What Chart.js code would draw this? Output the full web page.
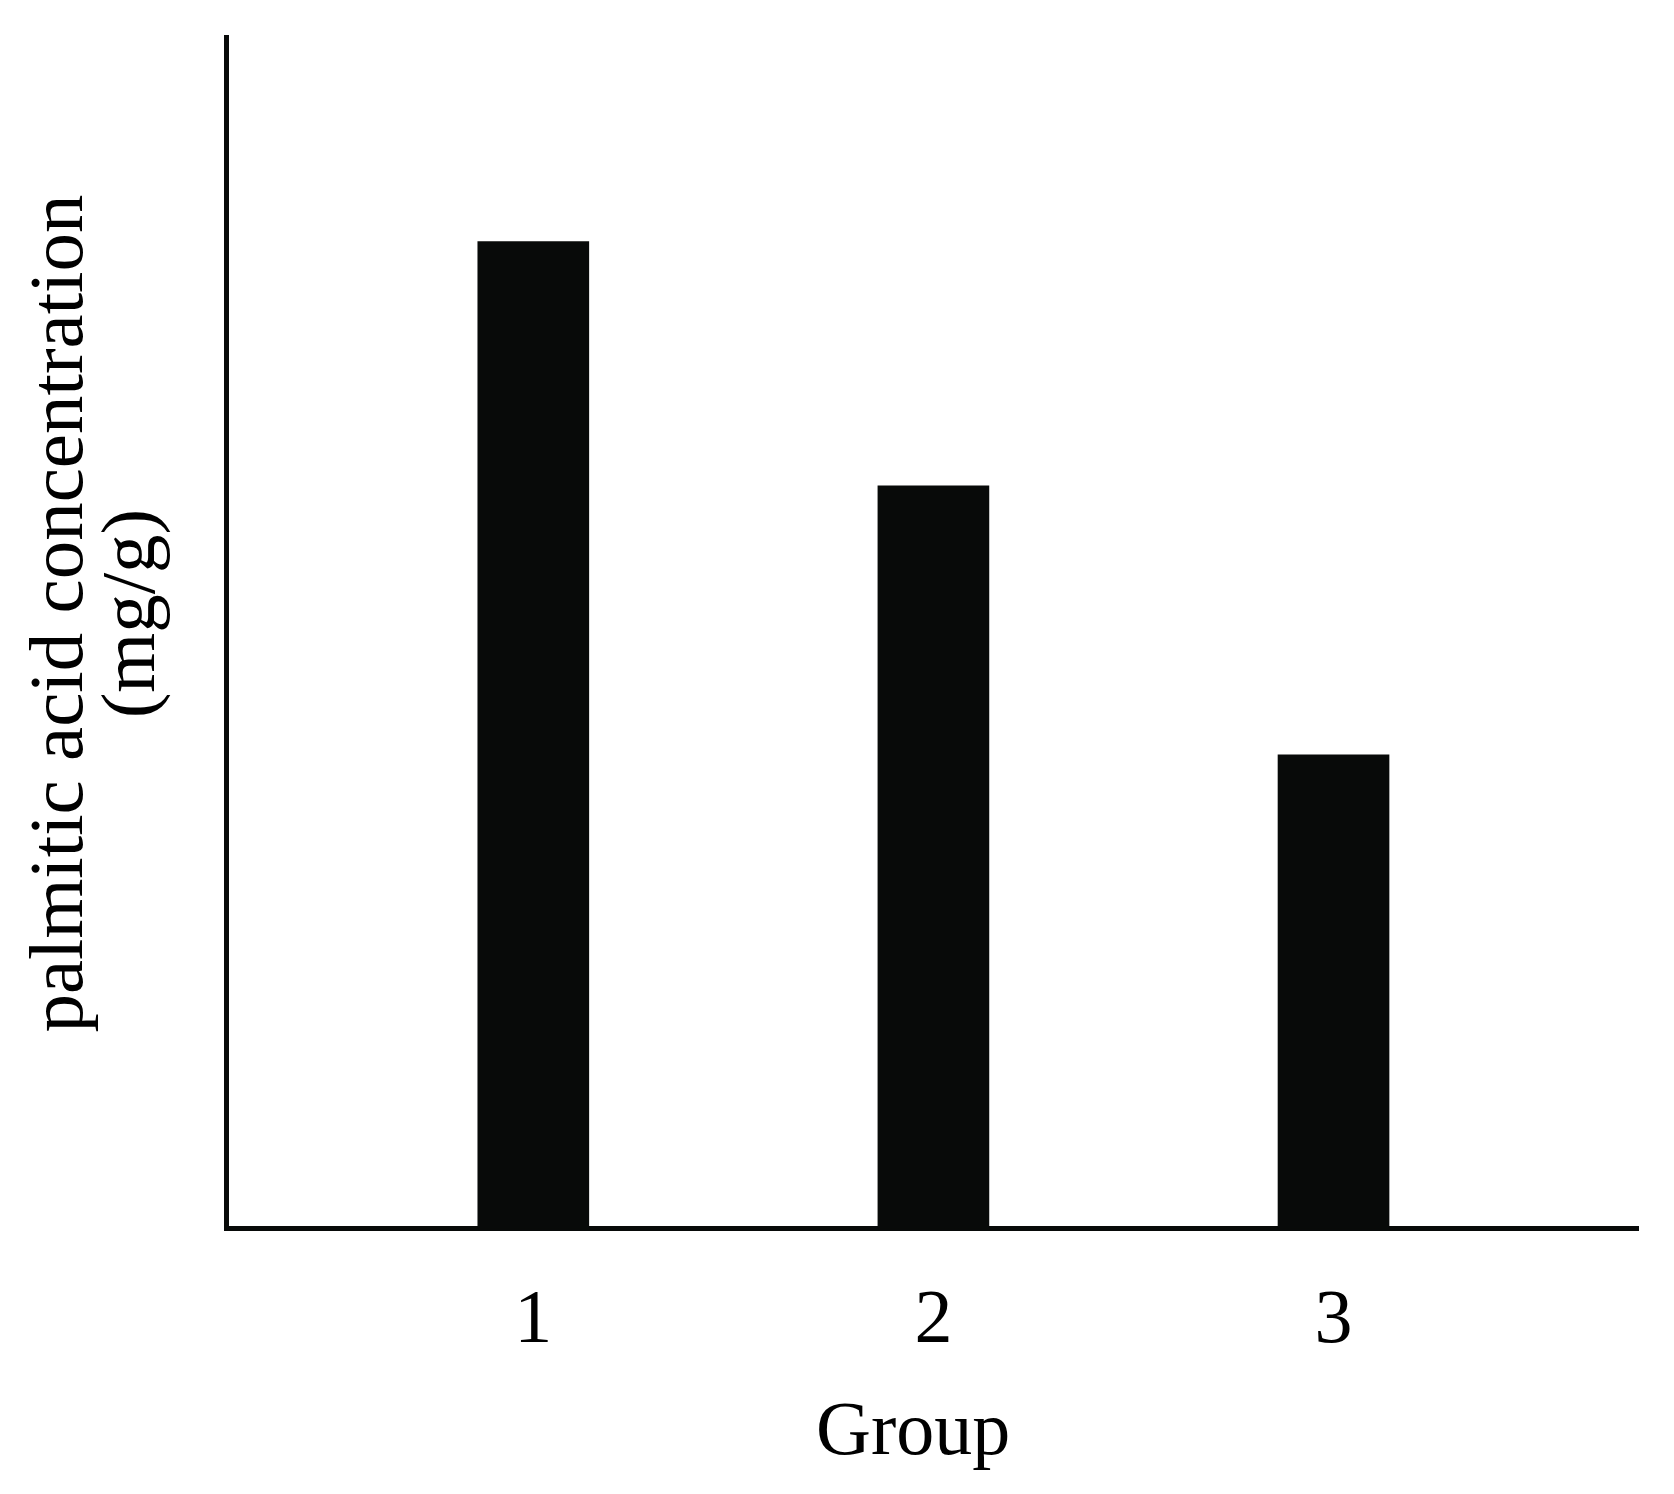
<!DOCTYPE html>
<html>
<head>
<meta charset="utf-8">
<title>palmitic acid concentration</title>
<script src="https://cdn.jsdelivr.net/npm/chart.js@4.4.1/dist/chart.umd.min.js"></script>
<style>
    html, body { margin: 0; padding: 0; background: #ffffff; }
    #wrap { width: 1674px; height: 1494px; }
</style>
</head>
<body>
<div id="wrap"><canvas id="chart" width="1674" height="1494"></canvas></div>
<script>
// data (no y ticks in the original, so units are relative)
const groups = [1, 2, 3];
const tickLabels = ['1', '2', '3'];
const concentration = [0.994, 0.748, 0.477];

const ink = '#080a09';
const serif = "'Liberation Serif', 'Times New Roman', serif";

const points = groups.map((g, i) => ({ x: g, y: concentration[i] }));

const ctx = document.getElementById('chart').getContext('2d');
new Chart(ctx, {
    type: 'bar',
    data: {
        datasets: [{
            label: 'palmitic acid',
            data: points,
            backgroundColor: ink,
            borderWidth: 0,
            barThickness: 111
        }]
    },
    options: {
        responsive: false,
        devicePixelRatio: 1,
        animation: false,
        layout: {
            padding: { top: 37, right: 36, bottom: 0, left: 0 }
        },
        plugins: {
            legend: { display: false },
            tooltip: { enabled: false }
        },
        scales: {
            x: {
                type: 'linear',
                min: 0.2325,
                max: 3.761,
                offset: false,
                grid: { display: false, drawTicks: false },
                border: { display: true, color: ink, width: 5 },
                afterBuildTicks: (scale) => {
                    scale.ticks = groups.map(v => ({ value: v }));
                },
                ticks: {
                    padding: 48,
                    color: '#000',
                    font: { family: serif, size: 76, lineHeight: 1.2 },
                    callback: (value) => tickLabels[groups.indexOf(value)] ?? ''
                },
                title: {
                    display: true,
                    // trailing spaces nudge the word a little left, as in the original
                    text: 'Group  ',
                    color: '#000',
                    font: { family: serif, size: 76, lineHeight: 1.2 },
                    padding: { top: -27, bottom: 14 }
                }
            },
            y: {
                min: 0,
                max: 1.2,
                grid: { display: false, drawTicks: false },
                border: { display: true, color: ink, width: 5 },
                ticks: { display: false },
                title: {
                    display: true,
                    // leading spaces lift the rotated text slightly above the axis middle
                    text: ['  palmitic acid concentration', '  (mg/g)'],
                    color: '#000',
                    font: { family: serif, size: 77, lineHeight: 0.93 },
                    padding: { top: 26, bottom: 57 }
                }
            }
        }
    }
});
</script>
</body>
</html>
